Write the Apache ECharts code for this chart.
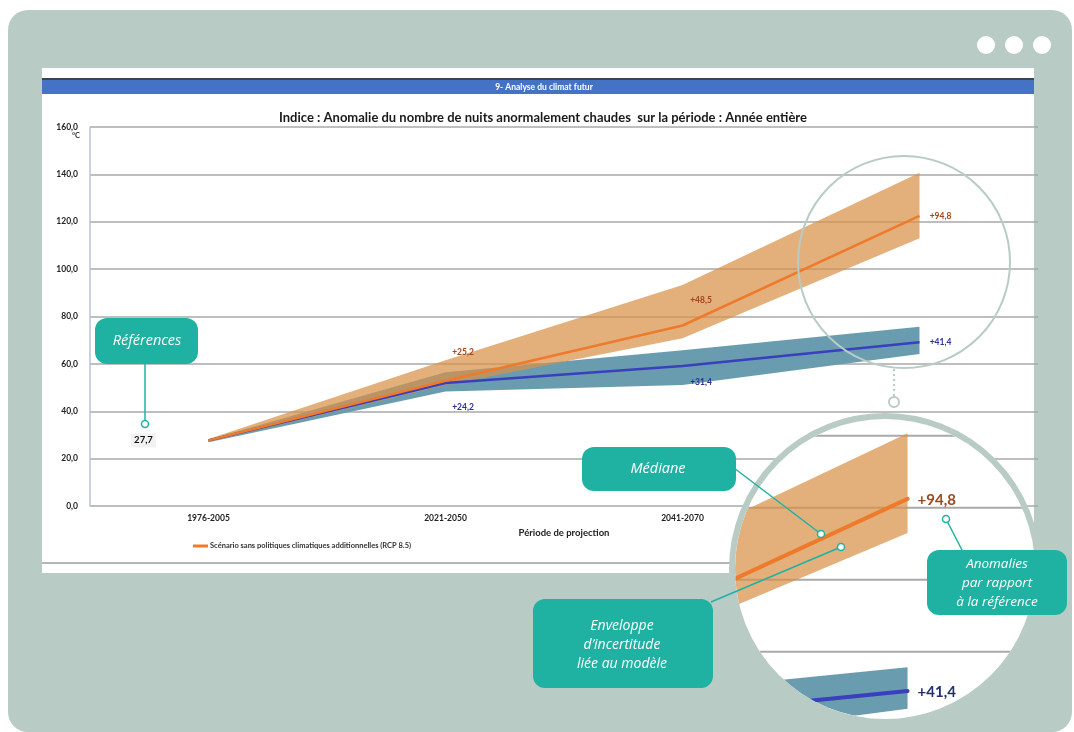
<!DOCTYPE html>
<html><head><meta charset="utf-8">
<script src="https://cdn.jsdelivr.net/npm/echarts@6/dist/echarts.min.js"></script>
<style>html,body{margin:0;padding:0;background:#fff}#c{width:1074px;height:732px}</style>
</head><body><div id="c"></div>
<script>
// ---------- data ----------
const categories = ['1976-2005', '2021-2050', '2041-2070', '2071-2100'];
const yTicks = [0, 20, 40, 60, 80, 100, 120, 140, 160];
const orangeMedian = [27.7, 52.9, 76.2, 122.5];
const orangeUpper  = [28.3, 61.5, 93.3, 140.7];
const orangeLower  = [27.1, 51.0, 70.8, 113.0];
const blueMedian   = [27.7, 51.9, 59.1, 69.1];
const blueUpper    = [28.1, 56.5, 65.8, 75.7];
const blueLower    = [26.9, 48.3, 51.1, 64.2];
const orangeLabels = ['27,7', '+25,2', '+48,5', '+94,8'];
const blueLabels   = ['', '+24,2', '+31,4', '+41,4'];
const legendName = 'Scénario sans politiques climatiques additionnelles (RCP 8.5)';

// ---------- styles / layout ----------
const FONT = 'Lato, "Open Sans", sans-serif';
const CFONT = '"Open Sans", Lato, sans-serif';
const TEAL = '#1fb2a2';
const SAGE = '#b8cbc5';
const ORANGE = '#ee7a2b';
const BLUE = '#3a3fbd';
const ORANGE_BAND = 'rgba(216,146,74,0.72)';
const BLUE_BAND = '#6a9caf';
const G = {left: 90, top: 127, width: 948, height: 379};
// magnifier: small circle (904,262) -> big circle (884,569), factor K
const K = 1.52, SC = [904, 262], BC = [884, 569];
const G2 = {
  left: BC[0] + K * (G.left - SC[0]),
  top: BC[1] + K * (G.top - SC[1]),
  width: G.width * K,
  height: G.height * K
};
const clipCircle = {type: 'circle', shape: {cx: 885, cy: 569, r: 150}};

const orangeOffsets = [[-65, 0], [17.5, -28.5], [18.5, -25.5], [21, 0]];
const blueOffsets = [[0, 0], [17.5, 24], [18.5, 16], [21, 0]];

function bandSeries(upper, lower, color, axisIdx, clip, z) {
  return {
    type: 'custom', xAxisIndex: axisIdx, yAxisIndex: axisIdx, z: z, silent: true,
    data: [[0, upper[0]]],
    renderItem: function (params, api) {
      const pts = [];
      for (let i = 0; i < upper.length; i++) pts.push(api.coord([i, upper[i]]));
      for (let i = lower.length - 1; i >= 0; i--) pts.push(api.coord([i, lower[i]]));
      const el = {type: 'polygon', shape: {points: pts}, style: {fill: color}};
      if (clip) el.clipPath = clip;
      return el;
    }
  };
}
function magLine(values, color, label, labelColor, z) {
  return {
    type: 'custom', xAxisIndex: 1, yAxisIndex: 1, z: z, silent: true,
    data: [[0, values[0]]],
    renderItem: function (params, api) {
      const pts = values.map((v, i) => api.coord([i, v]));
      const last = pts[pts.length - 1];
      return {type: 'group', children: [
        {type: 'polyline', shape: {points: pts}, style: {stroke: color, lineWidth: 4, fill: null, lineCap: 'round'}, clipPath: clipCircle},
        {type: 'text', x: last[0] + 10, y: last[1] + 1, style: {text: label, fill: labelColor, font: 'bold 15px ' + FONT, align: 'left', verticalAlign: 'middle'}}
      ]};
    }
  };
}

function callout(x, y, w, h, text, tx, ty, lh, fs) {
  return [
    {type: 'rect', z: 60, shape: {x: x, y: y, width: w, height: h, r: 12}, style: {fill: TEAL}},
    {type: 'text', z: 61, x: tx, y: ty, style: {text: text, fill: '#fff', font: 'italic ' + fs + 'px ' + CFONT, align: 'center', verticalAlign: 'middle', lineHeight: lh}}
  ];
}
function connector(x1, y1, x2, y2) {
  return [
    {type: 'line', z: 60, shape: {x1: x1, y1: y1, x2: x2, y2: y2}, style: {stroke: TEAL, lineWidth: 1.5}},
    {type: 'circle', z: 61, shape: {cx: x2, cy: y2, r: 3.5}, style: {fill: '#fff', stroke: TEAL, lineWidth: 1.5}}
  ];
}

const graphics = [
  {type: 'rect', z: -20, shape: {x: 8, y: 10, width: 1064, height: 722, r: 20}, style: {fill: SAGE}},
  {type: 'rect', z: -19, shape: {x: 42, y: 68, width: 992, height: 505}, style: {fill: '#fff'}},
  {type: 'rect', z: -18, shape: {x: 42, y: 78, width: 992, height: 2}, style: {fill: '#3b4252'}},
  {type: 'rect', z: -18, shape: {x: 42, y: 80, width: 992, height: 14}, style: {fill: '#4472c4'}},
  {type: 'text', z: 1, x: 544, y: 87.5, style: {text: '9- Analyse du climat futur', fill: '#fff', font: 'bold 8.5px ' + FONT, align: 'center', verticalAlign: 'middle'}},
  {type: 'rect', z: -18, shape: {x: 42, y: 562, width: 992, height: 2}, style: {fill: '#b5b5b5'}},
  {type: 'text', z: 1, x: 80, y: 136, style: {text: '°C', fill: '#333', font: 'bold 7.5px ' + FONT, align: 'right', verticalAlign: 'middle'}},
  {type: 'circle', z: 1, shape: {cx: 986, cy: 45, r: 9}, style: {fill: '#fff'}},
  {type: 'circle', z: 1, shape: {cx: 1014, cy: 45, r: 9}, style: {fill: '#fff'}},
  {type: 'circle', z: 1, shape: {cx: 1042, cy: 45, r: 9}, style: {fill: '#fff'}},
  // lens source
  {type: 'circle', z: 10, shape: {cx: 904, cy: 262, r: 106}, style: {fill: null, stroke: SAGE, lineWidth: 2}},
  {type: 'line', z: 10, shape: {x1: 894, y1: 369, x2: 894, y2: 396}, style: {stroke: SAGE, lineWidth: 2, lineDash: [2, 3]}},
  {type: 'circle', z: 10, shape: {cx: 894, cy: 402, r: 5}, style: {fill: '#fff', stroke: SAGE, lineWidth: 2}},
  // big lens
  {type: 'circle', z: 50, shape: {cx: 885, cy: 569, r: 152}, style: {fill: '#fff'}},
  {type: 'circle', z: 55, shape: {cx: 885, cy: 569, r: 153}, style: {fill: null, stroke: SAGE, lineWidth: 6}}
]
  .concat(callout(95, 318, 103, 46, 'Références', 147, 341, 18, 14.5))
  .concat(connector(145, 364, 145, 424))
  .concat(callout(582, 447, 154, 44, 'Médiane', 658, 469, 18, 14.5))
  .concat(connector(734, 468, 821, 534))
  .concat(callout(533, 599, 180, 89, "Enveloppe\nd’incertitude\nliée au modèle", 622, 645, 19, 14))
  .concat(connector(711, 602, 841, 547))
  .concat(callout(927, 550, 140, 65, 'Anomalies\npar rapport\nà la référence', 997, 583.5, 19, 13.5))
  .concat(connector(962, 550, 946, 519));

const hiddenAxis = {show: false};
const option = {
  backgroundColor: '#fff',
  animation: false,
  title: {text: 'Indice : Anomalie du nombre de nuits anormalement chaudes  sur la période : Année entière',
    left: 538, top: 106, textAlign: 'center',
    textStyle: {fontFamily: FONT, fontSize: 13, fontWeight: 'bold', color: '#1a1a1a'}},
  legend: {data: [legendName], left: 188, top: 537, icon: 'rect', itemWidth: 15, itemHeight: 3, itemGap: 4,
    textStyle: {fontFamily: FONT, fontSize: 7.5, fontWeight: 'bold', color: '#333', padding: [0, 0, 0, -3]}},
  grid: [
    {left: G.left, top: G.top, width: G.width, height: G.height, containLabel: false, outerBoundsMode: 'none'},
    {left: G2.left, top: G2.top, width: G2.width, height: G2.height, containLabel: false, outerBoundsMode: 'none'}
  ],
  xAxis: [
    {type: 'category', gridIndex: 0, data: categories, boundaryGap: true,
      axisLine: {show: false}, axisTick: {show: false},
      axisLabel: {margin: 8, fontFamily: FONT, fontSize: 8.5, fontWeight: 'bold', color: '#222'},
      name: 'Période de projection', nameLocation: 'middle', nameGap: 20,
      nameTextStyle: {fontFamily: FONT, fontSize: 9.5, fontWeight: 'bold', color: '#222'}},
    {type: 'category', gridIndex: 1, data: categories, boundaryGap: true,
      axisLine: hiddenAxis, axisTick: hiddenAxis, axisLabel: hiddenAxis, splitLine: hiddenAxis}
  ],
  yAxis: [
    {type: 'value', gridIndex: 0, min: 0, max: 160, interval: 20,
      axisLine: {show: true, lineStyle: {color: '#b9c2d6', width: 1.5}}, axisTick: {show: false},
      axisLabel: {margin: 12, fontFamily: FONT, fontSize: 8.5, fontWeight: 'bold', color: '#222',
        formatter: v => v.toFixed(1).replace('.', ',')},
      splitLine: {show: true, lineStyle: {color: '#a9a9a9', width: 1.5}}},
    {type: 'value', gridIndex: 1, min: 0, max: 160, interval: 20,
      axisLine: hiddenAxis, axisTick: hiddenAxis, axisLabel: hiddenAxis, splitLine: hiddenAxis}
  ],
  graphic: {elements: graphics},
  series: [
    bandSeries(blueUpper, blueLower, BLUE_BAND, 0, null, 2),
    bandSeries(orangeUpper, orangeLower, ORANGE_BAND, 0, null, 2),
    {name: 'RCP 4.5', type: 'line', xAxisIndex: 0, yAxisIndex: 0, z: 3, symbol: 'circle', symbolSize: 0.1, showSymbol: true,
      lineStyle: {color: BLUE, width: 2.5}, itemStyle: {color: BLUE},
      data: blueMedian.map((v, i) => ({value: v, label: {show: !!blueLabels[i], formatter: blueLabels[i],
        position: 'inside', offset: blueOffsets[i], color: '#2e3192', fontFamily: FONT, fontSize: 8.5, fontWeight: 'bold'}}))},
    {name: legendName, type: 'line', xAxisIndex: 0, yAxisIndex: 0, z: 4, symbol: 'circle', symbolSize: 0.1, showSymbol: true,
      lineStyle: {color: ORANGE, width: 2.5}, itemStyle: {color: ORANGE},
      data: orangeMedian.map((v, i) => ({value: v, label: {show: !!orangeLabels[i], formatter: orangeLabels[i],
        position: 'inside', offset: orangeOffsets[i],
        color: i === 0 ? '#111' : '#a0461c', fontFamily: FONT, fontSize: i === 0 ? 9.5 : 8.5, fontWeight: 'bold',
        backgroundColor: i === 0 ? '#f2f2f2' : 'transparent', padding: i === 0 ? [2, 3] : 0}}))},
    // magnified view
    {type: 'custom', xAxisIndex: 1, yAxisIndex: 1, z: 51, silent: true,
      data: yTicks.map(v => [0, v]),
      renderItem: function (params, api) {
        const y = api.coord([0, api.value(1)])[1];
        const cs = params.coordSys;
        return {type: 'line', shape: {x1: cs.x, y1: y, x2: cs.x + cs.width, y2: y},
          style: {stroke: '#a9a9a9', lineWidth: 2}, clipPath: clipCircle};
      }},
    bandSeries(blueUpper, blueLower, BLUE_BAND, 1, clipCircle, 51),
    bandSeries(orangeUpper, orangeLower, ORANGE_BAND, 1, clipCircle, 51),
    magLine(blueMedian, BLUE, blueLabels[3], '#23306e', 52),
    magLine(orangeMedian, ORANGE, orangeLabels[3], '#9b4a1e', 53)
  ]
};
const chart = echarts.init(document.getElementById('c'), null, {renderer: 'canvas'});
chart.setOption(option);
</script></body></html>
